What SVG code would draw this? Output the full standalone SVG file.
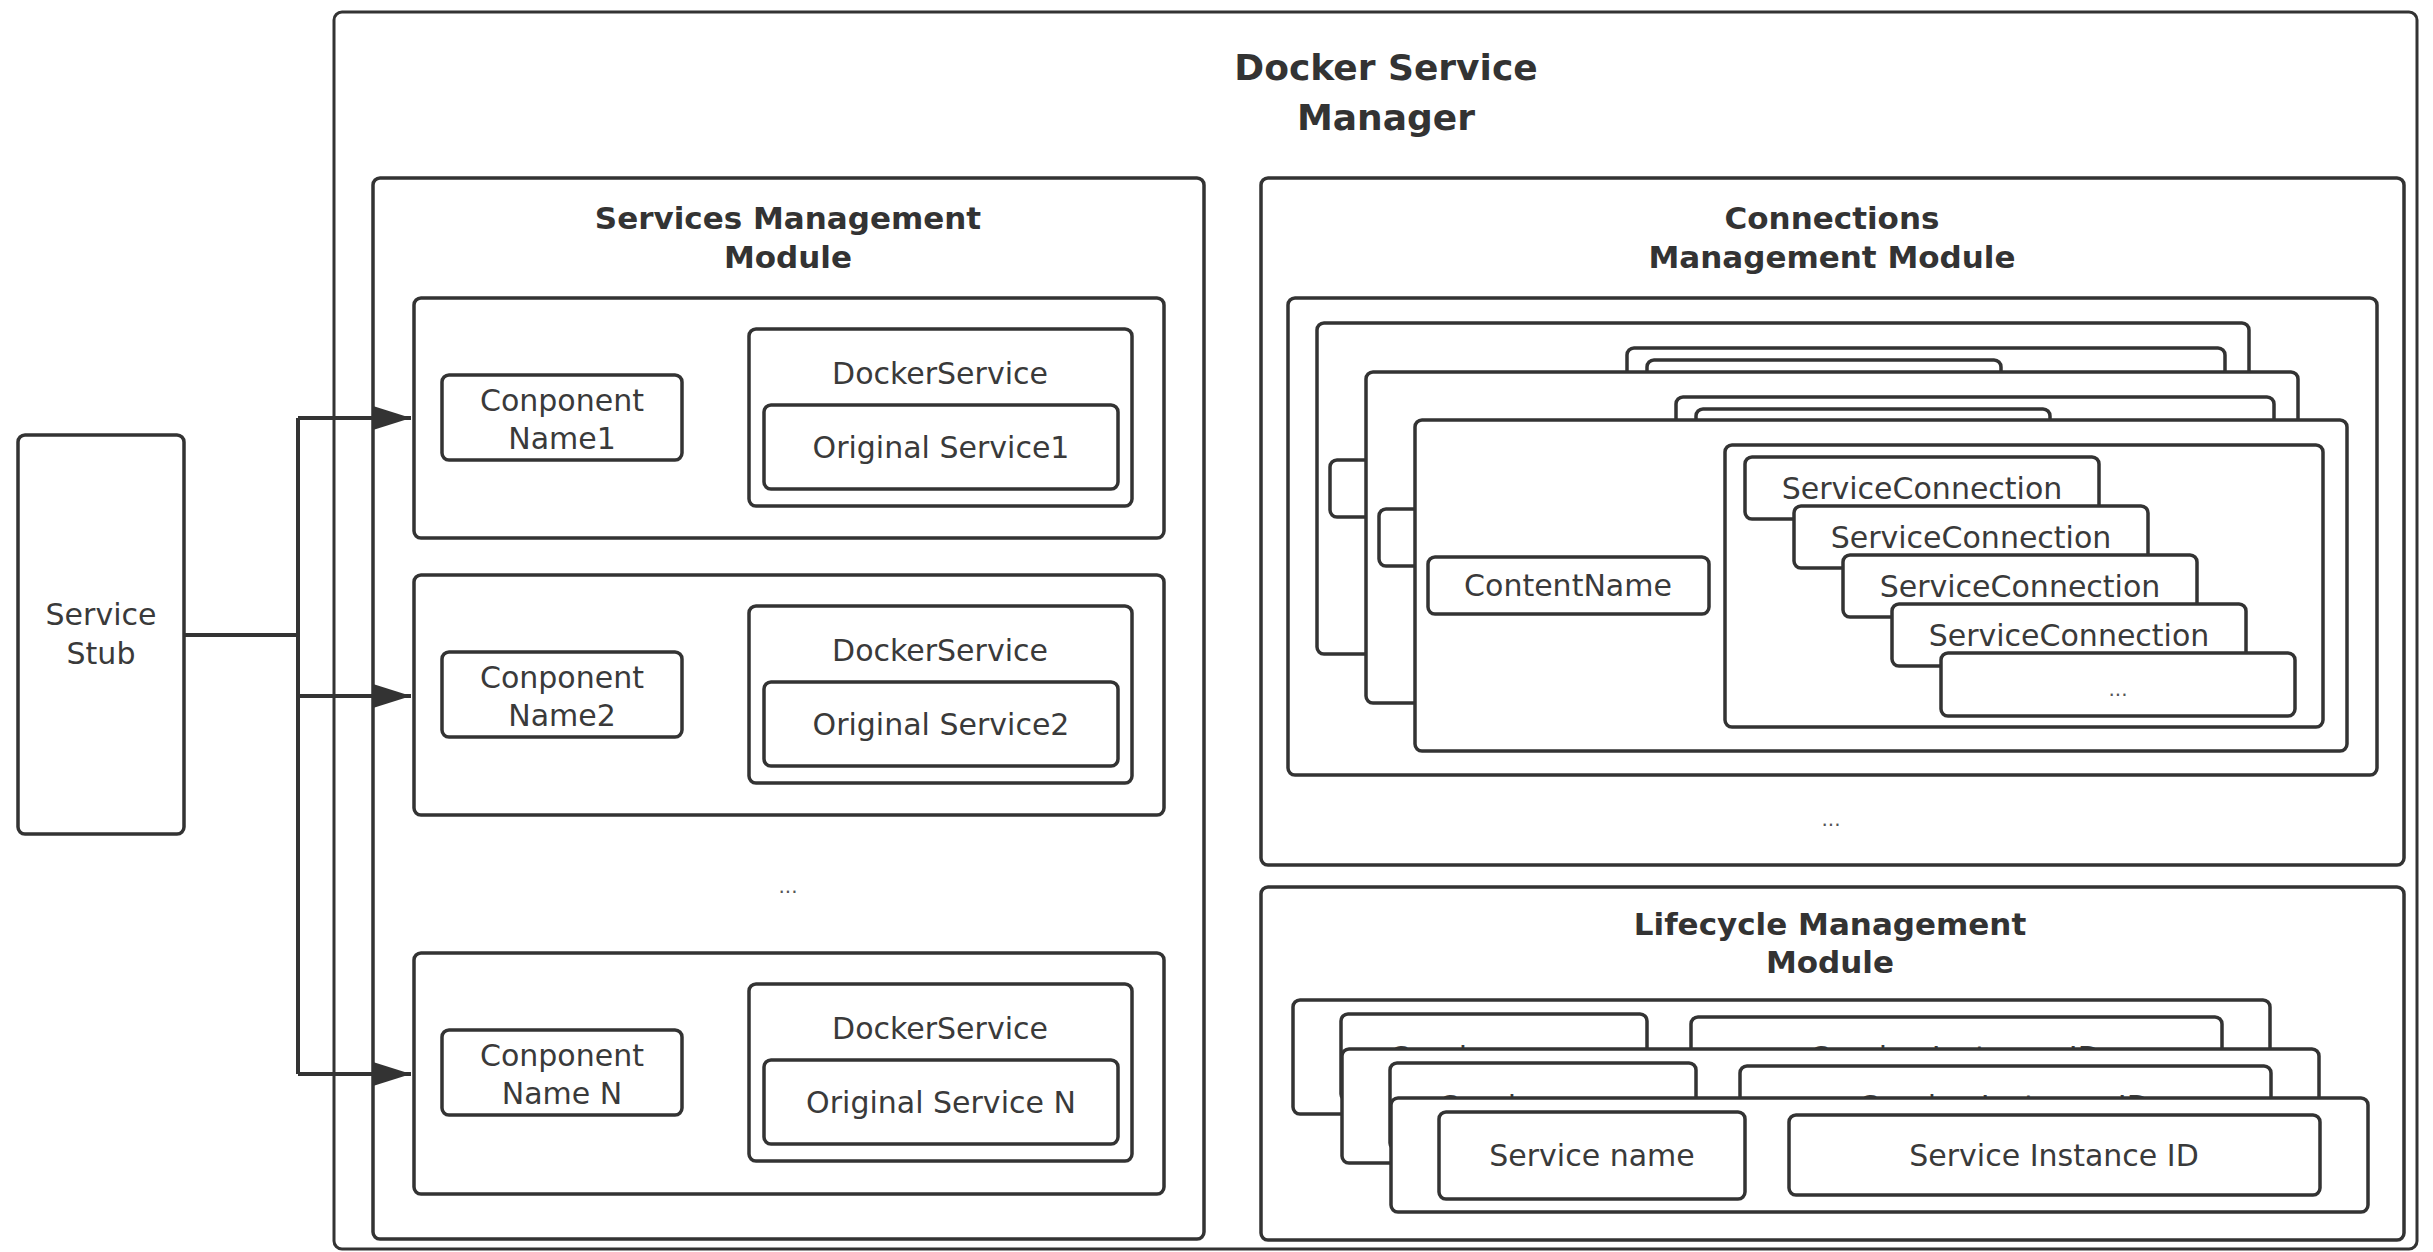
<svg xmlns="http://www.w3.org/2000/svg" width="2433" height="1252" viewBox="0 0 2433 1252">
<style>
.box{fill:#fff;stroke:#333;stroke-width:3.5}
.outer{fill:#fff;stroke:#333;stroke-width:3}
.t{font-family:"DejaVu Sans",sans-serif;font-size:30px;fill:#3a3a3a;text-anchor:middle}
.tb{font-family:"DejaVu Sans",sans-serif;font-size:31px;font-weight:bold;fill:#333;text-anchor:middle}
.tt{font-family:"DejaVu Sans",sans-serif;font-size:36px;font-weight:bold;fill:#333;text-anchor:middle}
.dots{font-family:"DejaVu Sans",sans-serif;font-size:20px;fill:#555;text-anchor:middle}
.ln{fill:none;stroke:#333;stroke-width:4}
</style>
<defs>
<marker id="arr" markerUnits="userSpaceOnUse" markerWidth="40" markerHeight="26" refX="38" refY="12" orient="auto">
<path d="M0,0 L38,12 L0,24 z" fill="#333"/>
</marker>
</defs>
<rect width="2433" height="1252" fill="#fff"/>

<g id="docker-service-manager">
<rect class="outer" x="334" y="12" width="2083" height="1237" rx="8"/>
<text class="tt" x="1386" y="80">Docker Service</text>
<text class="tt" x="1386" y="130">Manager</text>
</g>

<g id="service-stub">
<rect class="box" x="18" y="435" width="166" height="399" rx="7"/>
<text class="t" x="101" y="625">Service</text>
<text class="t" x="101" y="664">Stub</text>
</g>

<g id="services-management-module">
<rect class="box" x="373" y="178" width="831" height="1061" rx="7"/>
<text class="tb" x="788" y="229">Services Management</text>
<text class="tb" x="788" y="268">Module</text>
<text class="dots" x="788" y="893">...</text>
</g>

<g id="component-1" transform="translate(414,298)">
<rect class="box" x="0" y="0" width="750" height="240" rx="7"/>
<rect class="box" x="28" y="77" width="240" height="85" rx="7"/>
<text class="t" x="148" y="113">Conponent</text>
<text class="t" x="148" y="151">Name1</text>
<rect class="box" x="335" y="31" width="383" height="177" rx="7"/>
<text class="t" x="526" y="86">DockerService</text>
<rect class="box" x="350" y="107" width="354" height="84" rx="7"/>
<text class="t" x="527" y="160">Original Service1</text>
</g>

<g id="component-2" transform="translate(414,575)">
<rect class="box" x="0" y="0" width="750" height="240" rx="7"/>
<rect class="box" x="28" y="77" width="240" height="85" rx="7"/>
<text class="t" x="148" y="113">Conponent</text>
<text class="t" x="148" y="151">Name2</text>
<rect class="box" x="335" y="31" width="383" height="177" rx="7"/>
<text class="t" x="526" y="86">DockerService</text>
<rect class="box" x="350" y="107" width="354" height="84" rx="7"/>
<text class="t" x="527" y="160">Original Service2</text>
</g>

<g id="component-n" transform="translate(414,953)">
<rect class="box" x="0" y="0" width="750" height="241" rx="7"/>
<rect class="box" x="28" y="77" width="240" height="85" rx="7"/>
<text class="t" x="148" y="113">Conponent</text>
<text class="t" x="148" y="151">Name N</text>
<rect class="box" x="335" y="31" width="383" height="177" rx="7"/>
<text class="t" x="526" y="86">DockerService</text>
<rect class="box" x="350" y="107" width="354" height="84" rx="7"/>
<text class="t" x="527" y="160">Original Service N</text>
</g>

<g id="connections-management-module">
<rect class="box" x="1261" y="178" width="1143" height="687" rx="7"/>
<text class="tb" x="1832" y="229">Connections</text>
<text class="tb" x="1832" y="268">Management Module</text>
<rect class="box" x="1288" y="298" width="1089" height="477" rx="7"/>
<text class="dots" x="1831" y="826">...</text>
</g>

<g id="connection-card-3" transform="translate(1317,323)">
<rect class="box" x="0" y="0" width="932" height="331" rx="7"/>
<rect class="box" x="13" y="137" width="281" height="57" rx="7"/>
<text class="t" x="153" y="176">ContentName</text>
<rect class="box" x="310" y="25" width="598" height="282" rx="7"/>
<rect class="box" x="330" y="37" width="354" height="62" rx="7"/>
</g>

<g id="connection-card-2" transform="translate(1366,372)">
<rect class="box" x="0" y="0" width="932" height="331" rx="7"/>
<rect class="box" x="13" y="137" width="281" height="57" rx="7"/>
<text class="t" x="153" y="176">ContentName</text>
<rect class="box" x="310" y="25" width="598" height="282" rx="7"/>
<rect class="box" x="330" y="37" width="354" height="62" rx="7"/>
</g>

<g id="connection-card-1" transform="translate(1415,420)">
<rect class="box" x="0" y="0" width="932" height="331" rx="7"/>
<rect class="box" x="13" y="137" width="281" height="57" rx="7"/>
<text class="t" x="153" y="176">ContentName</text>
<rect class="box" x="310" y="25" width="598" height="282" rx="7"/>
<rect class="box" x="330" y="37" width="354" height="62" rx="7"/>
<text class="t" x="507" y="79">ServiceConnection</text>
<rect class="box" x="379" y="86" width="354" height="62" rx="7"/>
<text class="t" x="556" y="128">ServiceConnection</text>
<rect class="box" x="428" y="135" width="354" height="62" rx="7"/>
<text class="t" x="605" y="177">ServiceConnection</text>
<rect class="box" x="477" y="184" width="354" height="62" rx="7"/>
<text class="t" x="654" y="226">ServiceConnection</text>
<rect class="box" x="526" y="233" width="354" height="63" rx="7"/>
<text class="dots" x="703" y="276">...</text>
</g>

<g id="lifecycle-management-module">
<rect class="box" x="1261" y="887" width="1143" height="353" rx="7"/>
<text class="tb" x="1830" y="935">Lifecycle Management</text>
<text class="tb" x="1830" y="973">Module</text>
</g>

<g id="lifecycle-card-3" transform="translate(1293,1000)">
<rect class="box" x="0" y="0" width="977" height="114" rx="7"/>
<rect class="box" x="48" y="14" width="306" height="87" rx="7"/>
<text class="t" x="201" y="68">Service name</text>
<rect class="box" x="398" y="17" width="531" height="80" rx="7"/>
<text class="t" x="663" y="68">Service Instance ID</text>
</g>

<g id="lifecycle-card-2" transform="translate(1342,1049)">
<rect class="box" x="0" y="0" width="977" height="114" rx="7"/>
<rect class="box" x="48" y="14" width="306" height="87" rx="7"/>
<text class="t" x="201" y="68">Service name</text>
<rect class="box" x="398" y="17" width="531" height="80" rx="7"/>
<text class="t" x="663" y="68">Service Instance ID</text>
</g>

<g id="lifecycle-card-1" transform="translate(1391,1098)">
<rect class="box" x="0" y="0" width="977" height="114" rx="7"/>
<rect class="box" x="48" y="14" width="306" height="87" rx="7"/>
<text class="t" x="201" y="68">Service name</text>
<rect class="box" x="398" y="17" width="531" height="80" rx="7"/>
<text class="t" x="663" y="68">Service Instance ID</text>
</g>

<g id="connectors">
<path class="ln" d="M184,635 H298"/>
<path class="ln" d="M298,418 V1074"/>
<path class="ln" d="M298,418 H411" marker-end="url(#arr)"/>
<path class="ln" d="M298,696 H411" marker-end="url(#arr)"/>
<path class="ln" d="M298,1074 H411" marker-end="url(#arr)"/>
</g>
</svg>
